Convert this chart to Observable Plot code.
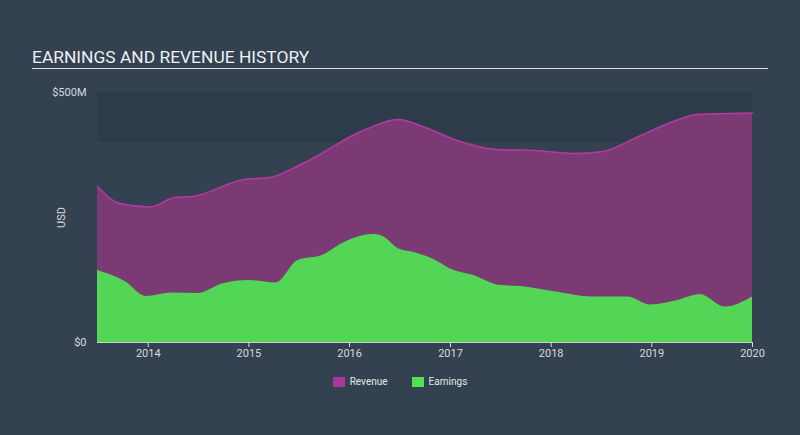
<!DOCTYPE html>
<html>
<head>
<meta charset="utf-8">
<script src="https://cdn.jsdelivr.net/npm/d3@7"></script>
<script src="https://cdn.jsdelivr.net/npm/@observablehq/plot@0.6"></script>
<style>
  html, body { margin: 0; padding: 0; }
  body { width: 800px; height: 435px; background: #344151; position: relative; overflow: hidden; font-family: Roboto, "Open Sans", sans-serif; }
  #title { position: absolute; left: 32px; top: 47px; width: 736px; color: #eef0f2; font-size: 17.4px; font-weight: 400; padding-bottom: 1px; border-bottom: 1.5px solid #dde1e5; line-height: 20px; }
  #chart { position: absolute; left: 0; top: 80px; }
  #legend { position: absolute; top: 376px; left: 0; width: 800px; display: flex; justify-content: center; font-size: 10px; color: #e4e7ea; }
  .item { display: flex; align-items: center; margin: 0 12px; }
  .sw { width: 12px; height: 10px; margin-right: 5px; }
</style>
</head>
<body>
<div id="title">EARNINGS AND REVENUE HISTORY</div>
<div id="chart"></div>
<div id="legend"></div>
<script>
const seriesNames = ["Revenue", "Earnings"];
const seriesFill = ["#7b3a74", "#53d655"];
const seriesStroke = ["#b23aa0", "#53d655"];
const legendColors = ["#a8389a", "#53e053"];

const revenueDates = ["2013-07-01","2013-09-20","2014-01-08","2014-04-08","2014-06-10","2014-12-15","2015-03-18","2015-07-16","2016-02-20","2016-06-25","2016-09-27","2017-01-25","2017-06-17","2017-11-03","2018-04-05","2018-07-08","2018-11-10","2019-03-15","2019-06-14","2020-01-01"];
const revenueValues = [312,278,271,290,292,326,330,358,424,446,431,404,386,384,378,382,411,441,456,459];

const earningsDates = ["2013-07-01","2013-10-12","2013-12-24","2014-03-28","2014-07-01","2014-09-27","2015-01-01","2015-04-09","2015-06-28","2015-09-24","2015-12-17","2016-03-26","2016-05-01","2016-06-28","2016-08-29","2016-11-06","2017-01-01","2017-03-26","2017-07-01","2017-09-12","2018-01-08","2018-06-03","2018-10-05","2018-12-28","2019-04-05","2019-06-25","2019-09-24","2020-01-01"];
const earningsValues = [144,121,92,99,98,117,124,119,164,174,201,216,212,187,179,165,147,134,114,112,102,91,91,75,84,96,71,91];

const yTicks = [0, 500];
const yTickLabels = ["$0", "$500M"];
const xTickYears = [2014, 2015, 2016, 2017, 2018, 2019, 2020];
const bandRanges = [[400, 500]];

const revenue = revenueDates.map((d, i) => ({date: new Date(d), value: revenueValues[i]}));
const earnings = earningsDates.map((d, i) => ({date: new Date(d), value: earningsValues[i]}));
const bands = bandRanges.map(([a, b]) => ({y1: a, y2: b}));
const xTicks = xTickYears.map(y => new Date(`${y}-01-01`));

const chart = Plot.plot({
  width: 800,
  height: 290,
  marginTop: 12,
  marginBottom: 28,
  marginLeft: 97,
  marginRight: 48,
  style: {background: "transparent", color: "#d6dade", fontFamily: "Roboto, sans-serif", fontSize: "11px"},
  x: {type: "utc", domain: [new Date("2013-07-01"), new Date("2020-01-01")], ticks: xTicks, tickFormat: d3.utcFormat("%Y"), tickSize: 5, tickPadding: 2, label: null},
  y: {domain: [0, 500], ticks: yTicks, tickFormat: (d) => yTickLabels[yTicks.indexOf(d)], tickSize: 0, tickPadding: 11, label: "USD", labelArrow: "none", labelAnchor: "center", labelOffset: 40},
  marks: [
    Plot.rect(bands, {x1: new Date("2013-07-01"), x2: new Date("2020-01-01"), y1: "y1", y2: "y2", fill: "#2c3a49", fillOpacity: 0.75}),
    Plot.areaY(revenue, {x: "date", y: "value", fill: seriesFill[0], curve: "monotone-x"}),
    Plot.lineY(revenue, {x: "date", y: "value", stroke: seriesStroke[0], strokeWidth: 1.5, curve: "monotone-x"}),
    Plot.areaY(earnings, {x: "date", y: "value", fill: seriesFill[1], curve: "monotone-x"}),
    Plot.ruleY([0], {stroke: "#c9ced3", strokeWidth: 1})
  ]
});
document.getElementById("chart").appendChild(chart);

const legend = document.getElementById("legend");
seriesNames.forEach((n, i) => {
  const it = document.createElement("div");
  it.className = "item";
  it.innerHTML = `<span class="sw" style="background:${legendColors[i]}"></span><span>${n}</span>`;
  legend.appendChild(it);
});
</script>
</body>
</html>
